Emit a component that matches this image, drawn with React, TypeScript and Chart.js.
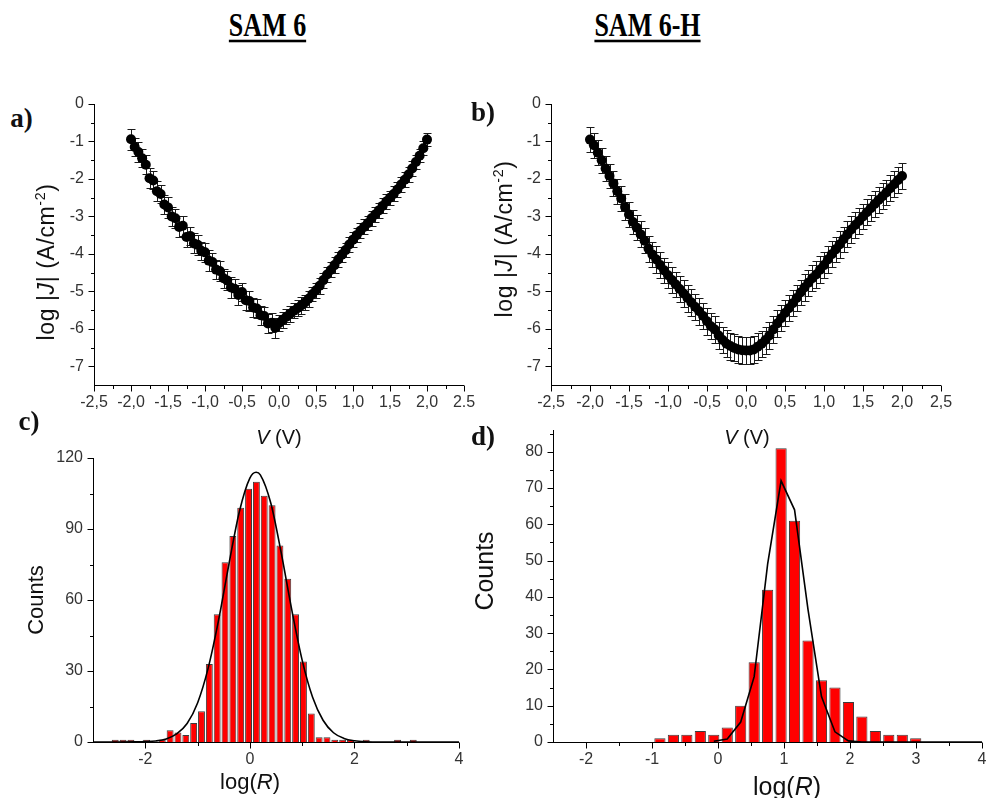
import React, { useEffect, useRef } from 'react';
import { Chart, registerables } from 'chart.js';

Chart.register(...registerables);

// ---------------- DATA ----------------
const jvVoltage = [
  -2.0, -1.95, -1.9, -1.85, -1.8, -1.75, -1.7, -1.65, -1.6, -1.55, -1.5, -1.45, -1.4, -1.35, -1.3, -1.25, -1.2, -1.15, -1.1, -1.05,
  -1.0, -0.95, -0.9, -0.85, -0.8, -0.75, -0.7, -0.65, -0.6, -0.55, -0.5, -0.45, -0.4, -0.35, -0.3, -0.25, -0.2, -0.15, -0.1, -0.05,
  0.0, 0.05, 0.1, 0.15, 0.2, 0.25, 0.3, 0.35, 0.4, 0.45, 0.5, 0.55, 0.6, 0.65, 0.7, 0.75, 0.8, 0.85, 0.9, 0.95,
  1.0, 1.05, 1.1, 1.15, 1.2, 1.25, 1.3, 1.35, 1.4, 1.45, 1.5, 1.55, 1.6, 1.65, 1.7, 1.75, 1.8, 1.85, 1.9, 1.95, 2.0,
];

const sam6LogJ = [
  -0.94, -1.15, -1.28, -1.45, -1.62, -1.98, -2.04, -2.33, -2.4, -2.68, -2.76, -3.0, -3.05, -3.28, -3.25, -3.55, -3.52, -3.72, -3.76, -3.92,
  -3.96, -4.18, -4.22, -4.42, -4.46, -4.65, -4.71, -4.9, -4.93, -5.1, -5.02, -5.24, -5.26, -5.43, -5.46, -5.64, -5.66, -5.86, -5.84, -5.97,
  -5.85, -5.76, -5.68, -5.6, -5.52, -5.45, -5.38, -5.3, -5.2, -5.08, -4.97, -4.85, -4.7, -4.55, -4.43, -4.3, -4.15, -4.02, -3.9, -3.75,
  -3.62, -3.5, -3.38, -3.28, -3.18, -3.05, -2.95, -2.84, -2.72, -2.6, -2.5, -2.4, -2.28, -2.15, -2.02, -1.88, -1.72, -1.55, -1.38, -1.18, -0.95,
];

const sam6Err = [
  0.28, 0.25, 0.26, 0.24, 0.25, 0.26, 0.24, 0.27, 0.25, 0.26, 0.27, 0.25, 0.26, 0.28, 0.26, 0.27, 0.25, 0.27, 0.26, 0.25,
  0.26, 0.27, 0.25, 0.26, 0.27, 0.25, 0.26, 0.27, 0.26, 0.27, 0.25, 0.26, 0.27, 0.25, 0.26, 0.25, 0.24, 0.26, 0.25, 0.27,
  0.22, 0.21, 0.2, 0.22, 0.2, 0.21, 0.22, 0.2, 0.21, 0.19, 0.2, 0.21, 0.2, 0.19, 0.2, 0.21, 0.19, 0.2, 0.19, 0.2,
  0.21, 0.19, 0.2, 0.2, 0.19, 0.2, 0.21, 0.19, 0.2, 0.2, 0.19, 0.2, 0.19, 0.2, 0.2, 0.19, 0.2, 0.19, 0.18, 0.19, 0.18,
];

const sam6hLogJ = [
  -0.95, -1.1, -1.3, -1.5, -1.72, -1.92, -2.12, -2.33, -2.52, -2.75, -2.95, -3.15, -3.3, -3.48, -3.65, -3.86, -4.02, -4.15, -4.3, -4.44,
  -4.57, -4.7, -4.82, -4.94, -5.06, -5.18, -5.3, -5.42, -5.53, -5.66, -5.8, -5.93, -6.02, -6.18, -6.3, -6.4, -6.46, -6.51, -6.55, -6.57,
  -6.58, -6.58, -6.55, -6.48, -6.4, -6.3, -6.18, -6.02, -5.86, -5.72, -5.58, -5.45, -5.32, -5.18, -5.03, -4.9, -4.77, -4.65, -4.55, -4.42,
  -4.3, -4.15, -4.01, -3.88, -3.75, -3.61, -3.48, -3.35, -3.23, -3.12, -3.0, -2.89, -2.78, -2.67, -2.56, -2.46, -2.36, -2.25, -2.14, -2.03, -1.92,
];

const sam6hErr = [
  0.34, 0.33, 0.34, 0.33, 0.34, 0.33, 0.34, 0.34, 0.33, 0.34, 0.34, 0.33, 0.34, 0.35, 0.34, 0.35, 0.34, 0.35, 0.35, 0.34,
  0.35, 0.35, 0.34, 0.35, 0.35, 0.36, 0.35, 0.35, 0.36, 0.35, 0.36, 0.35, 0.36, 0.36, 0.35, 0.36, 0.36, 0.36, 0.35, 0.36,
  0.36, 0.35, 0.36, 0.36, 0.35, 0.36, 0.35, 0.35, 0.36, 0.35, 0.35, 0.34, 0.35, 0.35, 0.34, 0.35, 0.35, 0.34, 0.35, 0.35,
  0.34, 0.35, 0.35, 0.34, 0.35, 0.34, 0.35, 0.35, 0.34, 0.35, 0.34, 0.35, 0.35, 0.34, 0.35, 0.35, 0.34, 0.35, 0.35, 0.34, 0.35,
];

const jvXTickValues = [-2.5, -2, -1.5, -1, -0.5, 0, 0.5, 1, 1.5, 2, 2.5];
const jvXTickLabelsA = ['-2,5', '-2,0', '-1,5', '-1,0', '-0,5', '0,0', '0,5', '1,0', '1,5', '2,0', '2.5'];
const jvXTickLabelsB = ['-2,5', '-2,0', '-1,5', '-1,0', '-0,5', '0,0', '0,5', '1,0', '1,5', '2,0', '2,5'];
const jvXMinorTicks = [-2.25, -1.75, -1.25, -0.75, -0.25, 0.25, 0.75, 1.25, 1.75, 2.25];
const jvYTickValues = [0, -1, -2, -3, -4, -5, -6, -7];
const jvYTickLabels = ['0', '-1', '-2', '-3', '-4', '-5', '-6', '-7'];
const jvYMinorTicks = [-0.5, -1.5, -2.5, -3.5, -4.5, -5.5, -6.5];

// Histogram c (SAM 6)
const histCBinCenters = [
  -2.575, -2.425, -2.275, -1.975, -1.675, -1.525, -1.375, -1.225, -1.075, -0.925, -0.775, -0.625, -0.475, -0.325, -0.175, -0.025,
  0.125, 0.275, 0.425, 0.575, 0.725, 0.875, 1.025, 1.175, 1.325, 1.475, 1.625, 1.775, 1.925, 2.225, 2.825, 3.125,
];
const histCCounts = [
  1, 1, 1, 1, 1, 5, 4, 3, 8, 13, 33, 54, 76, 87, 99, 107,
  110, 104, 100, 83, 69, 54, 34, 12, 2, 2, 1, 1, 1, 1, 1, 1,
];
const fitCX = [-3.0, -2.6, -2.2, -2.0, -1.8, -1.6, -1.4, -1.2, -1.0, -0.8, -0.6, -0.4, -0.2, 0.0, 0.12, 0.2, 0.4, 0.6, 0.8, 1.0, 1.2, 1.4, 1.6, 1.8, 2.0, 2.2, 2.6, 3.0, 4.0];
const fitCY = [0, 0.01, 0.05, 0.15, 0.45, 1.3, 3.4, 7.8, 16.5, 31.0, 51.3, 75.2, 97.4, 111.5, 114, 112.9, 101.0, 79.9, 56.0, 34.6, 18.9, 9.2, 3.9, 1.5, 0.5, 0.13, 0.01, 0, 0];
const histCXTickValues = [-2, 0, 2, 4];
const histCXTickLabels = ['-2', '0', '2', '4'];
const histCXMinorTicks = [-1, 1, 3];
const histCYTickValues = [0, 30, 60, 90, 120];
const histCYTickLabels = ['0', '30', '60', '90', '120'];
const histCYMinorTicks = [15, 45, 75, 105];

// Histogram d (SAM 6-H)
const histDBinCenters = [
  -0.88, -0.676, -0.472, -0.268, -0.064, 0.14, 0.344, 0.548, 0.752, 0.956,
  1.16, 1.364, 1.568, 1.772, 1.976, 2.18, 2.384, 2.588, 2.792, 2.996,
];
const histDCounts = [1, 2, 2, 3, 2, 4, 10, 22, 42, 81, 61, 28, 17, 15, 11, 7, 3, 2, 2, 1];
const fitDX = [-0.064, 0.14, 0.344, 0.548, 0.752, 0.956, 1.16, 1.364, 1.568, 1.772, 1.976, 2.18, 4.0];
const fitDY = [0.2, 0.8, 5.5, 18, 49, 72, 64, 36.5, 12.5, 2.8, 0.3, 0, 0];
const histDXTickValues = [-2, -1, 0, 1, 2, 3, 4];
const histDXTickLabels = ['-2', '-1', '0', '1', '2', '3', '4'];
const histDXMinorTicks = [-1.5, -0.5, 0.5, 1.5, 2.5, 3.5];
const histDYTickValues = [0, 10, 20, 30, 40, 50, 60, 70, 80];
const histDYTickLabels = ['0', '10', '20', '30', '40', '50', '60', '70', '80'];
const histDYMinorTicks = [5, 15, 25, 35, 45, 55, 65, 75, 85];

// ---------------- LAYOUT / STYLE ----------------
const PAD_L = 60;
const PAD_T = 20;
const PAD_R = 25;
const PAD_B = 30;
const SANS = "'Liberation Sans', Arial, Helvetica, sans-serif";
const SERIF = "'Liberation Serif', 'Times New Roman', serif";

type Rect = { l: number; t: number; r: number; b: number };
const rectA: Rect = { l: 94, t: 104, r: 464, b: 385 };
const rectB: Rect = { l: 551, t: 104, r: 941, b: 385 };
const rectC: Rect = { l: 93, t: 458, r: 459, b: 742 };
const rectD: Rect = { l: 553, t: 430, r: 982, b: 742 };

function makeScale(min: number, max: number, values: number[], labels: string[], axis: 'x' | 'y') {
  return {
    type: 'linear',
    min,
    max,
    offset: false,
    grid: { display: false, drawTicks: false },
    border: { display: false },
    afterBuildTicks: (s: any) => {
      s.ticks = values.map((v) => ({ value: v }));
    },
    afterFit: (s: any) => {
      if (axis === 'y') s.width = PAD_L;
      else s.height = PAD_B;
    },
    ticks: {
      autoSkip: false,
      maxRotation: 0,
      minRotation: 0,
      padding: axis === 'y' ? 10 : 8,
      color: '#333',
      font: { family: SANS, size: 16 },
      callback: (value: any) => {
        const i = values.indexOf(Number(value));
        return i >= 0 ? labels[i] : '';
      },
    },
  };
}

function axesPlugin(cfg: { xMajor: number[]; xMinor: number[]; yMajor: number[]; yMinor: number[] }) {
  return {
    id: 'axesTicks',
    afterDraw(chart: any) {
      const { ctx, chartArea } = chart;
      const xs = chart.scales.x;
      const ys = chart.scales.y;
      const ax = Math.round(chartArea.left) + 0.5;
      const ay = Math.round(chartArea.bottom) + 0.5;
      ctx.save();
      ctx.strokeStyle = '#000';
      ctx.lineWidth = 1;
      ctx.beginPath();
      ctx.moveTo(ax, chartArea.top);
      ctx.lineTo(ax, ay);
      ctx.moveTo(ax - 0.5, ay);
      ctx.lineTo(chartArea.right, ay);
      for (const v of cfg.xMajor) {
        const px = Math.round(xs.getPixelForValue(v)) + 0.5;
        ctx.moveTo(px, ay);
        ctx.lineTo(px, ay + 6);
      }
      for (const v of cfg.xMinor) {
        const px = Math.round(xs.getPixelForValue(v)) + 0.5;
        ctx.moveTo(px, ay);
        ctx.lineTo(px, ay + 3.5);
      }
      for (const v of cfg.yMajor) {
        const py = Math.round(ys.getPixelForValue(v)) + 0.5;
        ctx.moveTo(ax, py);
        ctx.lineTo(ax - 6, py);
      }
      for (const v of cfg.yMinor) {
        const py = Math.round(ys.getPixelForValue(v)) + 0.5;
        ctx.moveTo(ax, py);
        ctx.lineTo(ax - 3.5, py);
      }
      ctx.stroke();
      ctx.restore();
    },
  };
}

function errorBarPlugin(errors: number[]) {
  return {
    id: 'errorBars',
    beforeDatasetsDraw(chart: any) {
      const { ctx } = chart;
      const meta = chart.getDatasetMeta(0);
      const ys = chart.scales.y;
      const data = chart.data.datasets[0].data as { x: number; y: number }[];
      ctx.save();
      ctx.strokeStyle = '#1a1a1a';
      ctx.lineWidth = 1;
      ctx.beginPath();
      meta.data.forEach((el: any, i: number) => {
        const x = Math.round(el.x) + 0.5;
        const yt = Math.round(ys.getPixelForValue(data[i].y + errors[i])) + 0.5;
        const yb = Math.round(ys.getPixelForValue(data[i].y - errors[i])) + 0.5;
        ctx.moveTo(x, yt);
        ctx.lineTo(x, yb);
        ctx.moveTo(x - 4, yt);
        ctx.lineTo(x + 4, yt);
        ctx.moveTo(x - 4, yb);
        ctx.lineTo(x + 4, yb);
      });
      ctx.stroke();
      ctx.restore();
    },
  };
}

const baseOptions = {
  animation: false,
  responsive: false,
  maintainAspectRatio: false,
  events: [],
  layout: { padding: { top: PAD_T, right: PAD_R, left: 0, bottom: 0 } },
  plugins: { legend: { display: false }, tooltip: { enabled: false }, title: { display: false } },
};

function jvConfig(logJ: number[], errs: number[], xLabels: string[]) {
  return {
    type: 'scatter',
    data: {
      datasets: [
        {
          data: jvVoltage.map((v, i) => ({ x: v, y: logJ[i] })),
          pointRadius: 5,
          pointBackgroundColor: '#000',
          pointBorderWidth: 0,
          showLine: false,
        },
      ],
    },
    options: {
      ...baseOptions,
      scales: {
        x: makeScale(-2.5, 2.5, jvXTickValues, xLabels, 'x'),
        y: makeScale(-7.5, 0, jvYTickValues, jvYTickLabels, 'y'),
      },
    },
    plugins: [
      errorBarPlugin(errs),
      axesPlugin({ xMajor: jvXTickValues, xMinor: jvXMinorTicks, yMajor: jvYTickValues, yMinor: jvYMinorTicks }),
    ],
  };
}

function histConfig(
  centers: number[], counts: number[], fx: number[], fy: number[], smooth: boolean, barPct: number,
  xMin: number, xMax: number, xT: number[], xL: string[], xMinor: number[],
  yMax: number, yT: number[], yL: string[], yMinor: number[],
) {
  return {
    type: 'bar',
    data: {
      datasets: [
        {
          type: 'line',
          data: fx.map((x, i) => ({ x, y: fy[i] })),
          borderColor: '#000',
          borderWidth: 1.6,
          pointRadius: 0,
          fill: false,
          tension: smooth ? 0.4 : 0,
          cubicInterpolationMode: smooth ? 'monotone' : 'default',
          order: 0,
          clip: false,
        },
        {
          type: 'bar',
          data: centers.map((x, i) => ({ x, y: counts[i] })),
          backgroundColor: '#ff0000',
          borderColor: '#3c3c3c',
          borderWidth: 1,
          barPercentage: barPct,
          categoryPercentage: 1,
          order: 1,
        },
      ],
    },
    options: {
      ...baseOptions,
      scales: {
        x: makeScale(xMin, xMax, xT, xL, 'x'),
        y: makeScale(0, yMax, yT, yL, 'y'),
      },
    },
    plugins: [axesPlugin({ xMajor: xT, xMinor, yMajor: yT, yMinor })],
  };
}

function ChartPanel({ rect, build }: { rect: Rect; build: () => any }) {
  const ref = useRef<HTMLCanvasElement>(null);
  useEffect(() => {
    const chart = new Chart(ref.current as HTMLCanvasElement, build());
    return () => chart.destroy();
  }, []);
  const w = rect.r - rect.l + PAD_L + PAD_R;
  const h = rect.b - rect.t + PAD_T + PAD_B;
  return (
    <canvas
      ref={ref}
      width={w}
      height={h}
      style={{ position: 'absolute', left: rect.l - PAD_L, top: rect.t - PAD_T, width: w, height: h }}
    />
  );
}

function Txt({ x, y, rot = 0, size, font = SANS, bold = false, spacing = 0, children }: any) {
  return (
    <div
      style={{
        position: 'absolute',
        left: x,
        top: y,
        transform: `translate(-50%, -50%) rotate(${rot}deg)`,
        whiteSpace: 'nowrap',
        fontFamily: font,
        fontSize: size,
        fontWeight: bold ? 700 : 400,
        letterSpacing: spacing,
        lineHeight: 1.15,
        color: '#111',
      }}
    >
      {children}
    </div>
  );
}

function Title({ x, children }: any) {
  return (
    <div
      style={{
        position: 'absolute',
        left: x,
        top: 9,
        transform: 'translateX(-50%) scaleY(1.28)',
        transformOrigin: 'center top',
        whiteSpace: 'nowrap',
        fontFamily: SERIF,
        fontWeight: 700,
        fontSize: 26,
        lineHeight: 1,
        color: '#000',
        textDecoration: 'underline',
        textDecorationThickness: '2px',
        textUnderlineOffset: '3px',
      }}
    >
      {children}
    </div>
  );
}

const sup = { fontSize: '0.62em', verticalAlign: 'super', lineHeight: 0 } as const;

export default function App() {
  return (
    <div style={{ position: 'absolute', left: 0, top: 0, width: 987, height: 798, overflow: 'hidden', background: '#fff' }}>
      <ChartPanel rect={rectA} build={() => jvConfig(sam6LogJ, sam6Err, jvXTickLabelsA)} />
      <ChartPanel rect={rectB} build={() => jvConfig(sam6hLogJ, sam6hErr, jvXTickLabelsB)} />
      <ChartPanel
        rect={rectC}
        build={() =>
          histConfig(histCBinCenters, histCCounts, fitCX, fitCY, true, 0.88, -3, 4, histCXTickValues, histCXTickLabels, histCXMinorTicks,
            120, histCYTickValues, histCYTickLabels, histCYMinorTicks)
        }
      />
      <ChartPanel
        rect={rectD}
        build={() =>
          histConfig(histDBinCenters, histDCounts, fitDX, fitDY, false, 0.83, -2.5, 4, histDXTickValues, histDXTickLabels, histDXMinorTicks,
            86, histDYTickValues, histDYTickLabels, histDYMinorTicks)
        }
      />

      <Title x={267.5}>SAM 6</Title>
      <Title x={647.5}>SAM 6-H</Title>

      <Txt x={21.5} y={119} size={27} font={SERIF} bold>a)</Txt>
      <Txt x={483} y={113} size={27} font={SERIF} bold>b)</Txt>
      <Txt x={29} y={422} size={27} font={SERIF} bold>c)</Txt>
      <Txt x={483} y={437} size={27} font={SERIF} bold>d)</Txt>

      <Txt x={45.5} y={262} rot={-90} size={23} spacing={0.6}>
        log |<i>J</i>| (A/cm<span style={sup}>-2</span>)
      </Txt>
      <Txt x={504} y={239} rot={-90} size={23} spacing={0.6}>
        log |<i>J</i>| (A/cm<span style={sup}>-2</span>)
      </Txt>
      <Txt x={279} y={437} size={20}>
        <i>V</i> (V)
      </Txt>
      <Txt x={747} y={437} size={20}>
        <i>V</i> (V)
      </Txt>

      <Txt x={35.5} y={600} rot={-90} size={22}>Counts</Txt>
      <Txt x={484} y={571} rot={-90} size={25}>Counts</Txt>
      <Txt x={250} y={782} size={22}>
        log(<i>R</i>)
      </Txt>
      <Txt x={787} y={786} size={25}>
        log(<i>R</i>)
      </Txt>
    </div>
  );
}
